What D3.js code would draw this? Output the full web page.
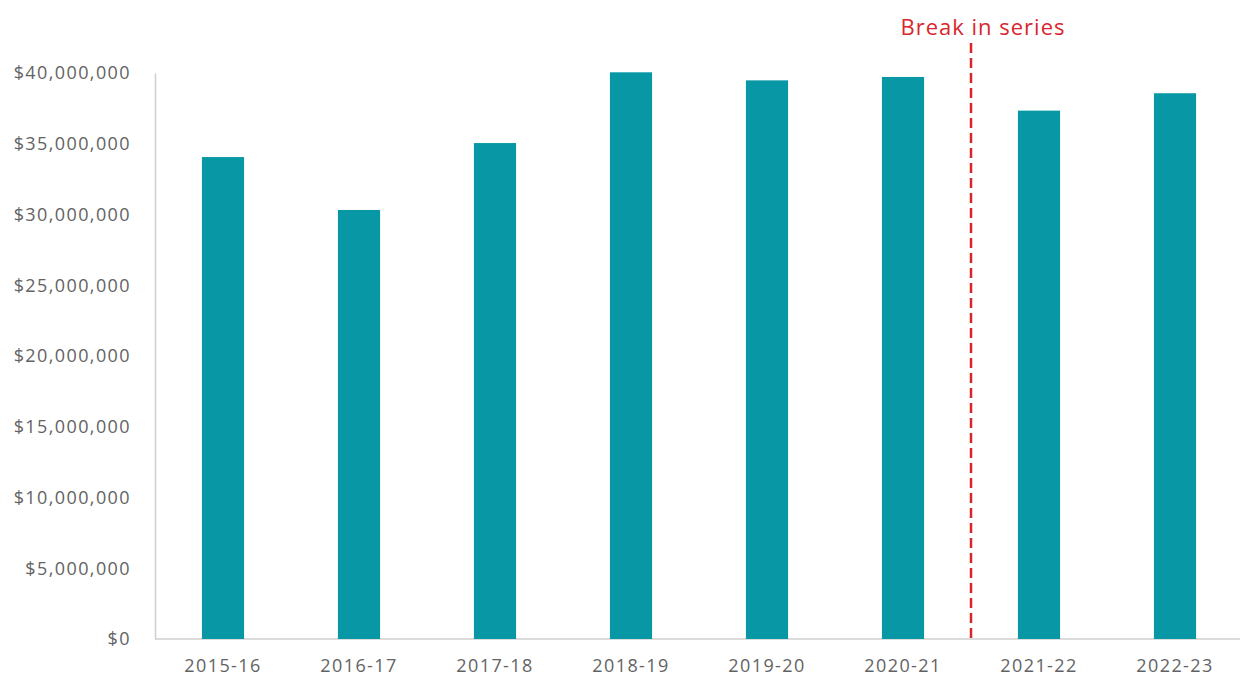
<!DOCTYPE html>
<html>
<head>
  <meta charset="utf-8">
  <script src="https://d3js.org/d3.v7.min.js"></script>
  <style>
    body { margin: 0; background: #fff; }
    text { font-family: "Open Sans", "Noto Sans", sans-serif; }
  </style>
</head>
<body>
<script>
  var years = ["2015-16", "2016-17", "2017-18", "2018-19", "2019-20", "2020-21", "2021-22", "2022-23"];
  var amounts = [34060000, 30320000, 35050000, 40050000, 39480000, 39720000, 37340000, 38570000];
  var yTicks = [0, 5000000, 10000000, 15000000, 20000000, 25000000, 30000000, 35000000, 40000000];
  var breakLabel = "Break in series";
  var breakAfter = "2020-21";

  var width = 1242, height = 679;
  var margin = {top: 73, right: 0, bottom: 40, left: 155};

  var svg = d3.select("body").append("svg")
    .attr("width", width)
    .attr("height", height);

  var x = d3.scaleBand()
    .domain(years)
    .range([margin.left, margin.left + 8 * 136])
    .paddingInner(0.69)
    .paddingOuter(0.345);

  var y = d3.scaleLinear()
    .domain([0, 40000000])
    .range([height - margin.bottom, margin.top]);

  var fmt = function(d) { return "$" + d3.format(",")(d); };

  // y axis
  var yAxis = svg.append("g")
    .attr("transform", "translate(" + margin.left + ",0)")
    .call(d3.axisLeft(y).tickValues(yTicks).tickFormat(fmt).tickSize(0).tickPadding(24));
  yAxis.select(".domain").attr("stroke", "#d0d0d0").attr("stroke-width", 1.5);
  yAxis.selectAll("text").attr("fill", "#636363").style("font-size", "18px").style("letter-spacing", "1.4px");

  // x axis
  var xAxis = svg.append("g")
    .attr("transform", "translate(0," + y(0) + ")")
    .call(d3.axisBottom(x).tickSize(0).tickPadding(20));
  xAxis.select(".domain").attr("d", "M" + margin.left + ",0H1240").attr("stroke", "#d0d0d0").attr("stroke-width", 1.5);
  xAxis.selectAll("text").attr("fill", "#636363").style("font-size", "18px").style("letter-spacing", "1.4px");

  // bars
  svg.selectAll("rect.bar")
    .data(years)
    .enter().append("rect")
    .attr("class", "bar")
    .attr("x", function(d) { return x(d); })
    .attr("width", x.bandwidth())
    .attr("y", function(d, i) { return y(amounts[i]); })
    .attr("height", function(d, i) { return y(0) - y(amounts[i]); })
    .attr("fill", "#0898a5");

  // break in series marker
  var bx = x(breakAfter) + x.bandwidth() + x.step() * x.paddingInner() / 2;
  svg.append("line")
    .attr("x1", bx).attr("x2", bx)
    .attr("y1", 43).attr("y2", y(0))
    .attr("stroke", "#d9262c")
    .attr("stroke-width", 2.5)
    .attr("stroke-dasharray", "10,5");

  svg.append("text")
    .attr("x", bx + 12)
    .attr("y", 35)
    .attr("text-anchor", "middle")
    .attr("fill", "#d9262c")
    .style("font-size", "22px")
    .style("letter-spacing", "1px")
    .text(breakLabel);
</script>
</body>
</html>
